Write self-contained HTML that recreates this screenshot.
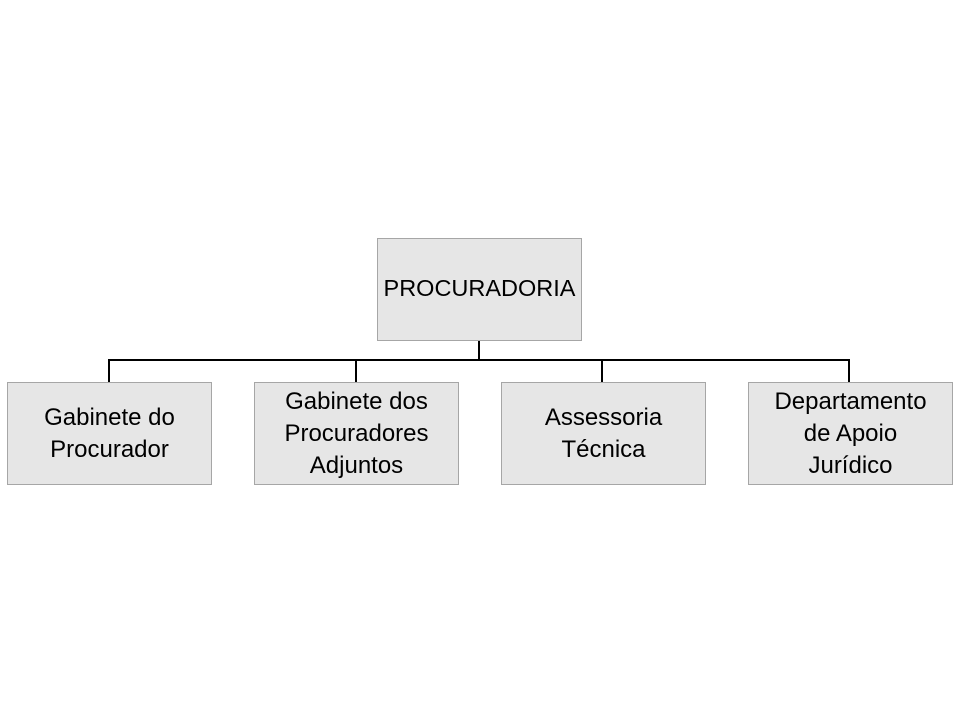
<!DOCTYPE html>
<html><head><meta charset="utf-8"><style>
body{margin:0;width:960px;height:720px;background:#fff;position:relative;overflow:hidden;font-family:"Liberation Sans",sans-serif;}
.b{position:absolute;box-sizing:border-box;background:#e6e6e6;border:1px solid #a6a6a6;display:flex;align-items:center;justify-content:center;text-align:center;font-size:24px;line-height:32px;color:#000;}
.l{position:absolute;background:#000;}
</style></head><body>
<div class="b" style="left:377px;top:238px;width:205px;height:103px;font-size:23.5px;padding-bottom:4px">PROCURADORIA</div>
<div class="l" style="left:478px;top:341px;width:2px;height:20px"></div>
<div class="l" style="left:108px;top:359px;width:742px;height:2px"></div>
<div class="l" style="left:108px;top:359px;width:2px;height:23px"></div>
<div class="l" style="left:355px;top:359px;width:2px;height:23px"></div>
<div class="l" style="left:601px;top:359px;width:2px;height:23px"></div>
<div class="l" style="left:848px;top:359px;width:2px;height:23px"></div>
<div class="b" style="left:7px;top:382px;width:205px;height:103px">Gabinete do<br>Procurador</div>
<div class="b" style="left:254px;top:382px;width:205px;height:103px">Gabinete dos<br>Procuradores<br>Adjuntos</div>
<div class="b" style="left:501px;top:382px;width:205px;height:103px">Assessoria<br>Técnica</div>
<div class="b" style="left:748px;top:382px;width:205px;height:103px">Departamento<br>de Apoio<br>Jurídico</div>
</body></html>
